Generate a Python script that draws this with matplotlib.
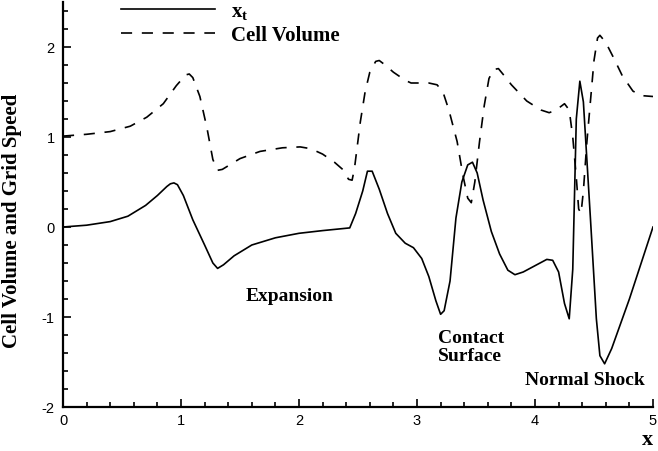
import numpy as np
import matplotlib
matplotlib.use('Agg')
import matplotlib.pyplot as plt
from matplotlib.ticker import MultipleLocator

plt.rcParams['lines.scale_dashes'] = False
plt.rcParams['axes.unicode_minus'] = False
plt.rcParams['mathtext.fontset'] = 'custom'
plt.rcParams['mathtext.bf'] = 'Liberation Serif:bold'
plt.rcParams['mathtext.rm'] = 'Liberation Serif'

# grid speed x_t (solid)
xt_x = [0.0, 0.2, 0.4, 0.55, 0.7, 0.8, 0.88, 0.91, 0.94, 0.97, 1.02, 1.1, 1.2, 1.27, 1.31,
        1.36, 1.45, 1.6, 1.8, 2.0, 2.2, 2.43, 2.48, 2.54, 2.58, 2.62, 2.68, 2.75, 2.82,
        2.9, 2.97, 3.04, 3.1, 3.16, 3.2, 3.23, 3.28, 3.33, 3.38, 3.43, 3.47, 3.51, 3.56,
        3.63, 3.7, 3.77, 3.83, 3.9, 4.0, 4.1, 4.15, 4.2, 4.25, 4.29, 4.32, 4.35, 4.38,
        4.41, 4.47, 4.52, 4.55, 4.59, 4.65, 4.8, 5.0]
xt_y = [0.0, 0.02, 0.06, 0.12, 0.24, 0.35, 0.45, 0.48, 0.49, 0.47, 0.35, 0.08, -0.2, -0.4, -0.46,
        -0.42, -0.32, -0.2, -0.12, -0.07, -0.04, -0.01, 0.15, 0.4, 0.62, 0.62, 0.42, 0.15, -0.07,
        -0.18, -0.23, -0.35, -0.55, -0.82, -0.97, -0.93, -0.6, 0.1, 0.5, 0.69, 0.72, 0.6, 0.3,
        -0.05, -0.3, -0.48, -0.53, -0.5, -0.43, -0.36, -0.37, -0.5, -0.85, -1.02, -0.47, 1.2, 1.62,
        1.39, 0.09, -1.02, -1.43, -1.52, -1.35, -0.8, 0.0]

# cell volume (dashed)
cv_x = [0.0, 0.2, 0.4, 0.57, 0.71, 0.85, 0.96, 1.04, 1.07, 1.1, 1.16, 1.22, 1.27, 1.31,
        1.35, 1.5, 1.67, 1.86, 2.01, 2.1, 2.2, 2.3, 2.37, 2.42, 2.45, 2.47, 2.52, 2.56,
        2.6, 2.65, 2.68, 2.73, 2.8, 2.9, 2.95, 3.1, 3.17, 3.22, 3.27, 3.34, 3.39, 3.43,
        3.46, 3.49, 3.53, 3.57, 3.61, 3.65, 3.69, 3.74, 3.8, 3.93, 4.05, 4.12, 4.18, 4.25,
        4.29, 4.32, 4.35, 4.37, 4.39, 4.41, 4.44, 4.47, 4.5, 4.53, 4.55, 4.6, 4.67, 4.74,
        4.83, 4.9, 5.0]
cv_y = [1.01, 1.03, 1.06, 1.12, 1.22, 1.37, 1.57, 1.69, 1.7, 1.66, 1.45, 1.1, 0.75, 0.63,
        0.64, 0.76, 0.84, 0.88, 0.89, 0.87, 0.81, 0.72, 0.64, 0.53, 0.52, 0.65, 1.17, 1.5,
        1.72, 1.84, 1.85, 1.8, 1.72, 1.63, 1.6, 1.6, 1.58, 1.5, 1.3, 0.95, 0.57, 0.32,
        0.27, 0.5, 0.95, 1.35, 1.65, 1.75, 1.76, 1.68, 1.58, 1.4, 1.3, 1.27, 1.3, 1.37,
        1.3, 1.0, 0.55, 0.2, 0.15, 0.4, 0.95, 1.4, 1.85, 2.1, 2.13, 2.05, 1.87, 1.68,
        1.51, 1.46, 1.45]

serif = 'Liberation Serif'

fig = plt.figure(figsize=(6.58, 4.52), dpi=100)
ax = fig.add_axes([63/658, 1 - 408/452, 590/658, 405/452])

ax.plot(xt_x, xt_y, 'k-', linewidth=1.2, label=r'$\mathbf{x}_{\mathbf{t}}$')
ax.plot(cv_x, cv_y, 'k--', linewidth=1.2, dashes=(8, 7), label='Cell Volume')

ax.set_xlim(0, 5)
ax.set_ylim(-2, 2.5)
ax.set_xticks([0, 1, 2, 3, 4, 5])
ax.set_yticks([-2, -1, 0, 1, 2])
ax.xaxis.set_minor_locator(MultipleLocator(0.2))
ax.yaxis.set_minor_locator(MultipleLocator(0.2))
ax.tick_params(which='both', direction='in', width=1.2)
ax.tick_params(which='major', length=6)
ax.tick_params(which='minor', length=3.5)
ax.tick_params(axis='y', pad=6)
ax.tick_params(axis='x', pad=4)
for lab in ax.get_xticklabels() + ax.get_yticklabels():
    lab.set_fontfamily('Liberation Sans')
    lab.set_fontsize(10.5)

ax.spines['top'].set_visible(False)
ax.spines['right'].set_visible(False)
ax.spines['left'].set_linewidth(1.6)
ax.spines['bottom'].set_linewidth(1.6)

ax.set_ylabel('Cell Volume and Grid Speed', fontfamily=serif, fontweight='bold', fontsize=15)
ax.yaxis.set_label_coords(-0.07, 0.463)
ax.set_xlabel('x', fontfamily=serif, fontweight='bold', fontsize=16, loc='right', labelpad=2)

ax.text(1.92, -0.76, 'Expansion', fontfamily=serif, fontweight='bold', fontsize=14,
        ha='center', va='center')
ax.text(3.18, -1.33, 'Contact\nSurface', fontfamily=serif, fontweight='bold', fontsize=14,
        ha='left', va='center', linespacing=1.1)
ax.text(4.42, -1.69, 'Normal Shock', fontfamily=serif, fontweight='bold', fontsize=14,
        ha='center', va='center')

leg = ax.legend(loc='upper left', bbox_to_anchor=(121/658, 0.994), bbox_transform=fig.transFigure,
                frameon=False, borderpad=0, borderaxespad=0, handlelength=4.5,
                handletextpad=0.8, labelspacing=0.12,
                prop={'family': serif, 'weight': 'bold', 'size': 15})

fig.savefig('out.png', dpi=100)
